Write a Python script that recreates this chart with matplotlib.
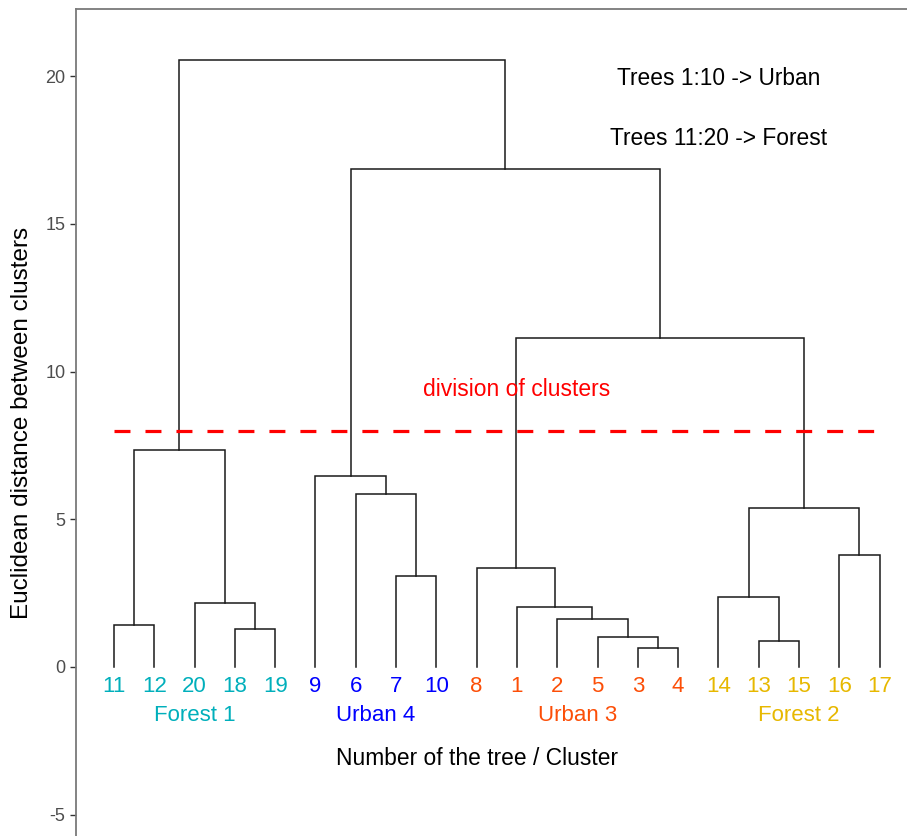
import matplotlib
matplotlib.use("Agg")
import matplotlib.pyplot as plt

plt.rcParams['font.family'] = ['Liberation Sans', 'DejaVu Sans']

# leaf order along the x axis
leaf_order = [11, 12, 20, 18, 19, 9, 6, 7, 10, 8, 1, 2, 5, 3, 4, 14, 13, 15, 16, 17]
# cluster membership of leaves
cluster_names = ["Forest 1", "Urban 4", "Urban 3", "Forest 2"]
cluster_leaves = [[11, 12, 20, 18, 19], [9, 6, 7, 10], [8, 1, 2, 5, 3, 4], [14, 13, 15, 16, 17]]
cluster_colors = ["#00AFBB", "#0000FF", "#FC4E07", "#E7B800"]

# merges: (name, left child, right child, height)
merge_names = ["m0", "m1", "m2", "m3", "m4", "m5", "m6", "m7", "m8", "m9",
               "m10", "m11", "m12", "m13", "m14", "m15", "m16", "m17", "m18"]
merge_left = [11, 18, 20, "m0", 7, 6, 9, 3, 5, 2, 1, 8, 13, 14, 16, "m13", "m11", "m6", "m3"]
merge_right = [12, 19, "m1", "m2", 10, "m4", "m5", 4, "m7", "m8", "m9", "m10", 15, "m12", 17, "m14", "m15", "m16", "m17"]
merge_height = [1.42, 1.29, 2.17, 7.34, 3.08, 5.85, 6.46, 0.64, 1.02, 1.62,
                2.03, 3.35, 0.88, 2.37, 3.79, 5.38, 11.13, 16.85, 20.54]

cut_height = 8.0

fig = plt.figure(figsize=(9.07, 8.36), dpi=100)
ax = fig.add_axes([76 / 907, 0.0, 1 - 76 / 907, 1 - 9 / 836])

pos = {leaf: i + 1 for i, leaf in enumerate(leaf_order)}
hgt = {leaf: 0.0 for leaf in leaf_order}
for name, l, r, h in zip(merge_names, merge_left, merge_right, merge_height):
    xl, xr = pos[l], pos[r]
    ax.plot([xl, xl, xr, xr], [hgt[l], h, h, hgt[r]], color="#1a1a1a", lw=1.1,
            solid_joinstyle="miter", zorder=2)
    pos[name] = (xl + xr) / 2
    hgt[name] = h

# cut line
ax.plot([1, len(leaf_order)], [cut_height, cut_height], color="red", lw=2.3,
        linestyle=(0, (5.0, 4.7)), zorder=3)
ax.text(11, 9.4, "division of clusters", color="red", fontsize=16.5,
        ha="center", va="center")

# leaf labels and cluster labels
for cname, leaves, col in zip(cluster_names, cluster_leaves, cluster_colors):
    for lf in leaves:
        ax.text(pos[lf], -0.65, str(lf), color=col, fontsize=16,
                ha="center", va="center")
    cx = sum(pos[lf] for lf in leaves) / len(leaves)
    ax.text(cx, -1.65, cname, color=col, fontsize=16, ha="center", va="center")

ax.text(10.0, -3.1, "Number of the tree / Cluster", color="black", fontsize=16.4,
        ha="center", va="center")
ax.text(16, 19.93, "Trees 1:10 -> Urban", color="black", fontsize=16.4,
        ha="center", va="center")
ax.text(16, 17.88, "Trees 11:20 -> Forest", color="black", fontsize=16.4,
        ha="center", va="center")

ax.set_xlim(0.057, 20.68)
ax.set_ylim(-5.72, 22.27)
ax.set_xticks([])
ax.set_yticks([-5, 0, 5, 10, 15, 20])
ax.set_yticklabels(["-5", "0", "5", "10", "15", "20"])
ax.tick_params(axis="y", length=4.5, width=1.0, color="#333333",
               labelcolor="#4D4D4D", labelsize=13, pad=3)
for side in ["right", "bottom"]:
    ax.spines[side].set_visible(False)
for side in ["left", "top"]:
    ax.spines[side].set_color("#7a7a7a")
    ax.spines[side].set_linewidth(1.3)

fig.text(22 / 907, 1 - 423 / 836, "Euclidean distance between clusters",
         rotation=90, ha="center", va="center", fontsize=17.5, color="black")

fig.savefig("out.png", dpi=100)
